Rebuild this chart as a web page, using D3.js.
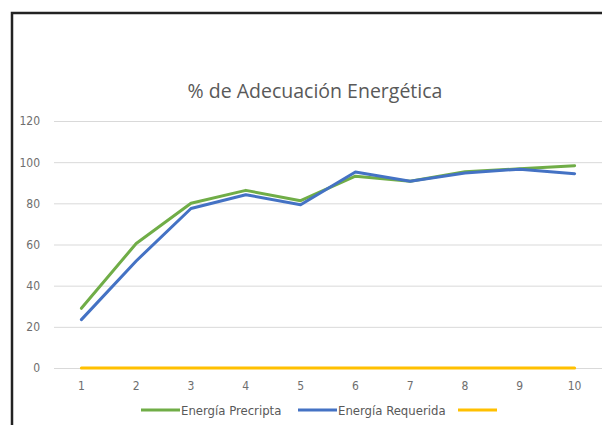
<!DOCTYPE html>
<html>
<head>
<meta charset="utf-8">
<script src="https://cdn.jsdelivr.net/npm/d3@7"></script>
<style>
  body { margin: 0; background: #fff; }
  svg { display: block; }
</style>
</head>
<body>
<div id="chart"></div>
<script>
// data
const categories = [1, 2, 3, 4, 5, 6, 7, 8, 9, 10];
const precripta = [29, 60.5, 80, 86.3, 81.3, 93.2, 90.7, 95.3, 96.8, 98.3];
const requerida = [23.5, 52, 77.5, 84.2, 79.3, 95.2, 90.7, 94.7, 96.6, 94.4];
const tercera = [0, 0, 0, 0, 0, 0, 0, 0, 0, 0];
const yTicks = [0, 20, 40, 60, 80, 100, 120];
const seriesNames = ['Energía Precripta', 'Energía Requerida', ''];

const width = 602, height = 425;
const margin = { top: 121, right: 0, bottom: 57, left: 54 };
const labelFont = '"Liberation Sans Narrow", "DejaVu Sans Condensed", "Liberation Sans", sans-serif';

const svg = d3.select('#chart')
    .append('svg')
    .attr('width', width)
    .attr('height', height);

// chart frame (runs off the right and bottom of the picture)
svg.append('rect')
    .attr('x', 12)
    .attr('y', 13)
    .attr('width', 700)
    .attr('height', 500)
    .attr('fill', 'none')
    .attr('stroke', '#222')
    .attr('stroke-width', 2.5);

const x = d3.scaleBand()
    .domain(categories)
    .range([margin.left, width - margin.right]);

const y = d3.scaleLinear()
    .domain([0, 120])
    .range([368, margin.top]);

// gridlines
svg.append('g')
    .selectAll('line')
    .data(yTicks)
    .join('line')
    .attr('x1', margin.left)
    .attr('x2', width - margin.right)
    .attr('y1', d => y(d) + 0.5)
    .attr('y2', d => y(d) + 0.5)
    .attr('stroke', '#d9d9d9')
    .attr('stroke-width', 1);

// y axis labels
const yAxis = svg.append('g')
    .attr('transform', `translate(${margin.left - 14},0)`)
    .call(d3.axisLeft(y).tickValues(yTicks).tickSize(0).tickPadding(0));
yAxis.select('.domain').remove();
yAxis.selectAll('text')
    .attr('fill', '#6e6e6e')
    .style('font-family', labelFont)
    .style('font-size', '12px');

// x axis labels
const xAxis = svg.append('g')
    .attr('transform', `translate(0,${y(0) + 13})`)
    .call(d3.axisBottom(x).tickSize(0).tickPadding(0));
xAxis.select('.domain').remove();
xAxis.selectAll('text')
    .attr('fill', '#6e6e6e')
    .style('font-family', labelFont)
    .style('font-size', '12px');

const line = d3.line()
    .x((d, i) => x(categories[i]) + x.bandwidth() / 2)
    .y(d => y(d));

const series = [
    { name: seriesNames[0], values: precripta, color: '#70ad47' },
    { name: seriesNames[1], values: requerida, color: '#4472c4' },
    { name: seriesNames[2], values: tercera, color: '#ffc000' }
];

// yellow first on the zero line, then green, then blue on top
[series[2], series[0], series[1]].forEach(s => {
    svg.append('path')
        .datum(s.values)
        .attr('d', line)
        .attr('fill', 'none')
        .attr('stroke', s.color)
        .attr('stroke-width', 3)
        .attr('stroke-linejoin', 'round')
        .attr('stroke-linecap', 'round');
});

// title
svg.append('text')
    .attr('x', 315)
    .attr('y', 98)
    .attr('text-anchor', 'middle')
    .attr('fill', '#595959')
    .style('font-family', '"Open Sans", "Noto Sans", sans-serif')
    .style('font-size', '19.5px')
    .text('% de Adecuación Energética');

// legend
const legendX = [141, 298, 458];
const legend = svg.append('g')
    .selectAll('g')
    .data(series)
    .join('g')
    .attr('transform', (d, i) => `translate(${legendX[i]},410)`);

legend.append('line')
    .attr('x1', 0)
    .attr('x2', 39)
    .attr('stroke', d => d.color)
    .attr('stroke-width', 3);

legend.append('text')
    .attr('x', 40)
    .attr('y', 4.5)
    .attr('fill', '#595959')
    .style('font-family', labelFont)
    .style('font-size', '13px')
    .text(d => d.name);
</script>
</body>
</html>
